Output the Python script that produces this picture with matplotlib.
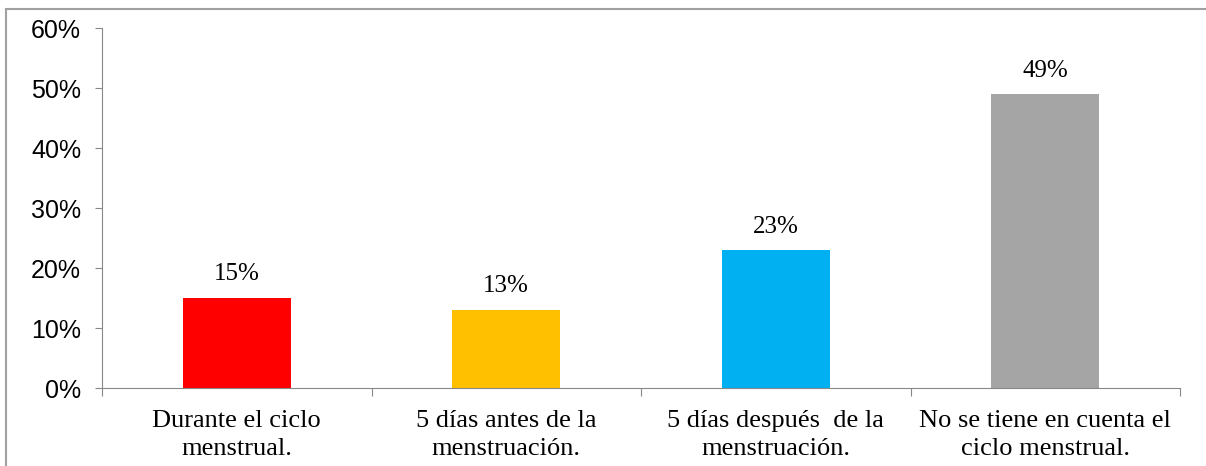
import matplotlib
matplotlib.use("Agg")
import matplotlib.pyplot as plt
from matplotlib.patches import Rectangle
from matplotlib.ticker import PercentFormatter

categorias = ["Durante el ciclo\nmenstrual.", "5 días antes de la\nmenstruación.",
              "5 días después  de la\nmenstruación.", "No se tiene en cuenta el\nciclo menstrual."]
valores = [15, 13, 23, 49]
etiquetas = ["15%", "13%", "23%", "49%"]
colores = ["#FF0000", "#FFC000", "#00B0F0", "#A5A5A5"]
gris = "#888888"

fig = plt.figure(figsize=(12.06, 4.66), dpi=100)
ax = fig.add_axes([102 / 1206, 78 / 466, 1078 / 1206, 360 / 466])

# marco exterior del grafico (recortado a la derecha y abajo)
fig.patches.append(Rectangle((6 / 1206, -0.1), 1.2, 1 - 9 / 466 + 0.1, transform=fig.transFigure,
                             fill=False, edgecolor="#A0A0A0", linewidth=1.5))

x = range(len(valores))
ax.bar(x, valores, width=0.4, color=colores)
for i, v in enumerate(valores):
    ax.annotate(etiquetas[i], (i, v), xytext=(0, 9), textcoords="offset points",
                ha="center", va="bottom", fontsize=18, family="Liberation Serif")

ax.set_xlim(-0.5, 3.5)
ax.set_ylim(0, 60)
ax.set_yticks(range(0, 61, 10))
ax.yaxis.set_major_formatter(PercentFormatter(decimals=0))
for lbl in ax.get_yticklabels():
    lbl.set_family("Liberation Sans")
    lbl.set_fontsize(18)
ax.tick_params(axis="y", length=5, color=gris, pad=10)

ax.set_xticks([-0.5, 0.5, 1.5, 2.5, 3.5])
ax.set_xticklabels([])
ax.set_xticks(list(x), minor=True)
ax.set_xticklabels(categorias, minor=True, family="Liberation Serif", fontsize=19, linespacing=1.35)
ax.tick_params(axis="x", which="major", length=6, color=gris)
ax.tick_params(axis="x", which="minor", length=0, pad=16)

for s in ["top", "right"]:
    ax.spines[s].set_visible(False)
for s in ["left", "bottom"]:
    ax.spines[s].set_color(gris)

fig.savefig("out.png", dpi=100)
